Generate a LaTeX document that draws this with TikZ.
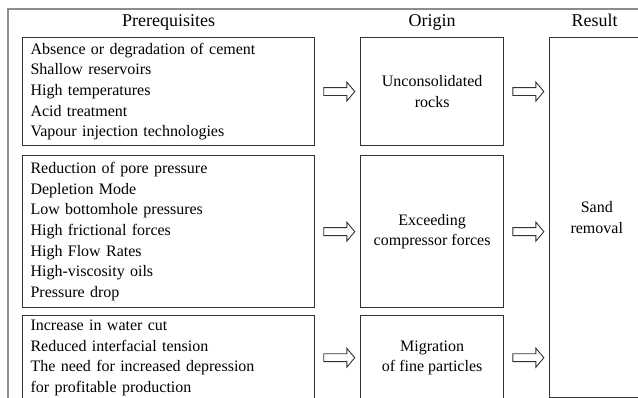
\documentclass[tikz,border=0pt]{standalone}
\usepackage{fontspec}
\setmainfont{Liberation Serif}
\usetikzlibrary{positioning,shapes.arrows,calc}
\tikzset{
  box/.style = {draw=black!80, line width=1.1pt, inner sep=0pt},
  listbox/.style = {box, align=left, text width=276pt, inner xsep=8pt, font=\fontsize{16}{20.6}\selectfont},
  origbox/.style = {box, align=center, minimum width=143pt, font=\fontsize{16}{20.6}\selectfont},
  head/.style = {inner sep=0pt, anchor=base, font=\fontsize{18}{20}\selectfont},
  fatarrow/.style = {single arrow, draw=black!80, line width=0.9pt, inner sep=0pt, minimum height=31pt, text height=3.5pt, text depth=3.5pt, single arrow head extend=5.5pt, single arrow tip angle=100},
  outerline/.style = {draw=black!45, line width=2.2pt},
}
\begin{document}
\begin{tikzpicture}[x=1pt, y=-1pt]
\useasboundingbox (0,0) rectangle (638,398);
\clip (0,0) rectangle (638,398);
\coordinate (fc) at (8,9);
\coordinate (fb) at (8,400);
\coordinate (fr) at (640,9);
\draw [outerline] (fb) -- (fc) -- (fr);
\node [listbox, minimum height=108pt, anchor=north west] (pre1) at (22,37)
  {Absence or degradation of cement\\Shallow reservoirs\\High temperatures\\Acid treatment\\Vapour injection technologies};
\node [listbox, minimum height=152pt, below=9pt of pre1] (pre2)
  {Reduction of pore pressure\\Depletion Mode\\Low bottomhole pressures\\High frictional forces\\High Flow Rates\\High-viscosity oils\\Pressure drop};
\node [listbox, minimum height=84pt, below=7pt of pre2] (pre3)
  {Increase in water cut\\Reduced interfacial tension\\The need for increased depression\\for profitable production};
\node [origbox, minimum height=108pt, right=45pt of pre1] (org1) {Unconsolidated\\rocks};
\node [origbox, minimum height=152pt, right=45pt of pre2] (org2) {Exceeding\\compressor forces};
\node [origbox, minimum height=84pt, right=45pt of pre3] (org3) {Migration\\of fine particles};
\node [origbox, minimum width=94pt, minimum height=360pt, anchor=north west] (res)
  at ($(org1.north east)+(45,0)$) {Sand\\removal};
\coordinate (top) at (0,27);
\node [head] (hpre) at (pre1.north |- top) {Prerequisites};
\node [head] (horg) at (org1.north |- top) {Origin};
\node [head] (hres) at ($(res.north west |- top)+(45.5,0)$) {Result};
\node [fatarrow] (a1) at ($(pre1.east)!.5!(org1.west)$) {};
\node [fatarrow] (a2) at ($(pre2.east)!.5!(org2.west)$) {};
\node [fatarrow] (a3) at ($(pre3.east)!.5!(org3.west)$) {};
\node [fatarrow] (b1) at ($(org1.east)!.5!(org1.east -| res.west)$) {};
\node [fatarrow] (b2) at ($(org2.east)!.5!(org2.east -| res.west)$) {};
\node [fatarrow] (b3) at ($(org3.east)!.5!(org3.east -| res.west)$) {};
\end{tikzpicture}
\end{document}
